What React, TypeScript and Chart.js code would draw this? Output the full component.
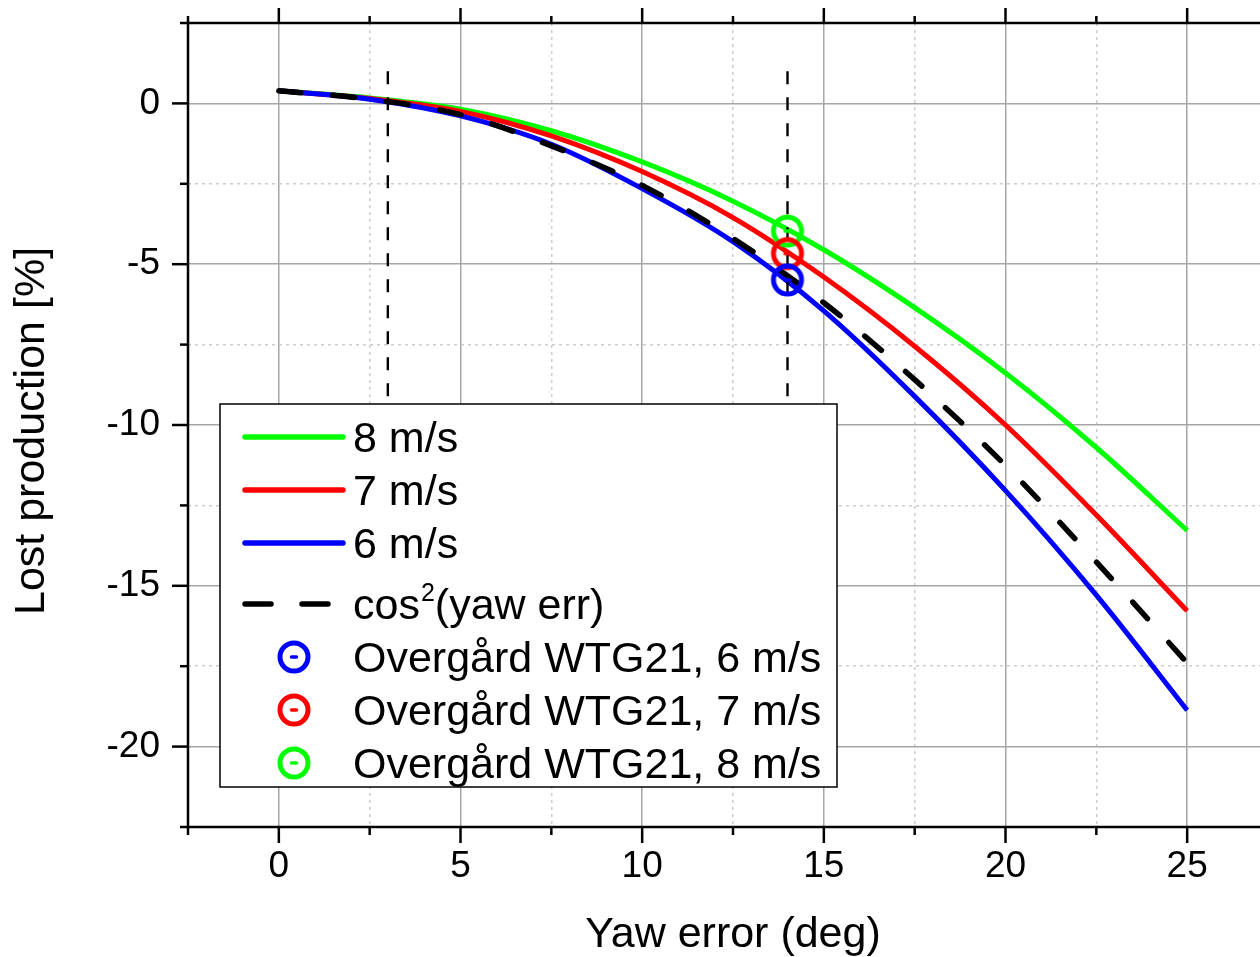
import React, { useEffect, useRef } from "react";
import { Chart, registerables } from "chart.js";

Chart.register(...registerables);

// ---- data ----
const yawDeg = [0, 2.5, 5, 7.5, 10, 12.5, 15, 17.5, 20, 22.5, 25];
const loss8 = [0.39, 0.17, -0.18, -0.85, -1.82, -3.04, -4.55, -6.35, -8.38, -10.7, -13.28];
const loss7 = [0.39, 0.15, -0.25, -1.01, -2.12, -3.55, -5.4, -7.55, -10.0, -12.8, -15.78];
const loss6 = [0.39, 0.13, -0.39, -1.27, -2.65, -4.3, -6.45, -9.11, -12.04, -15.29, -18.87];
const lossCos2 = [0.39, 0.13, -0.35, -1.32, -2.55, -4.2, -6.2, -8.59, -11.26, -14.26, -17.4];

const measYaw = [14];
const meas6 = [-5.49];
const meas7 = [-4.67];
const meas8 = [-3.97];

const refLineX = [3, 14];
const refLineY = [1, -20];

const xRange = [-2.5, 27.5];
const yRange = [-22.5, 2.5];
const tickStep = 2.5;
const labelStep = 5;

const seriesLabels = [
  "8 m/s",
  "7 m/s",
  "6 m/s",
  "cos²(yaw err)",
  "Overgård WTG21, 6 m/s",
  "Overgård WTG21, 7 m/s",
  "Overgård WTG21, 8 m/s",
];
const xTitle = "Yaw error (deg)";
const yTitle = "Lost production [%] ";

const GREEN = "#00ff00";
const RED = "#ff0000";
const BLUE = "#0000ff";
const FONT = "'Liberation Sans', Arial, Helvetica, sans-serif";

const isMajor = (v: number) => Math.abs(v / labelStep - Math.round(v / labelStep)) < 1e-6;

function makeRing(color: string): HTMLCanvasElement {
  const c = document.createElement("canvas");
  c.width = 40;
  c.height = 40;
  const g = c.getContext("2d")!;
  g.strokeStyle = color;
  g.lineWidth = 5;
  g.beginPath();
  g.arc(20, 20, 14, 0, Math.PI * 2);
  g.stroke();
  g.lineWidth = 3.5;
  g.lineCap = "round";
  g.beginPath();
  g.moveTo(17.5, 20);
  g.lineTo(22.5, 20);
  g.stroke();
  return c;
}

const pts = (xs: number[], ys: number[]) => ys.map((y, i) => ({ x: xs[i], y }));

const framePlugin = {
  id: "frameTicks",
  afterDatasetsDraw(chart: any) {
    const { ctx, chartArea: a, scales } = chart;
    const xs = scales.x;
    const ys = scales.y;
    ctx.save();
    ctx.strokeStyle = "#000";
    ctx.lineWidth = 2.5;
    ctx.lineCap = "butt";
    ctx.beginPath();
    ctx.rect(a.left, a.top, a.right - a.left, a.bottom - a.top);
    ctx.stroke();
    const seg = (x1: number, y1: number, x2: number, y2: number) => {
      ctx.beginPath();
      ctx.moveTo(x1, y1);
      ctx.lineTo(x2, y2);
      ctx.stroke();
    };
    xs.ticks.forEach((t: any) => {
      const px = xs.getPixelForValue(t.value);
      const m = isMajor(t.value);
      seg(px, a.bottom, px, a.bottom + (m ? 16 : 8));
      seg(px, a.top, px, a.top - (m ? 15 : 7));
    });
    ys.ticks.forEach((t: any) => {
      const py = ys.getPixelForValue(t.value);
      const m = isMajor(t.value);
      seg(a.left, py, a.left - (m ? 16 : 8), py);
      seg(a.right, py, a.right + (m ? 16 : 8), py);
    });
    ctx.restore();
  },
};

const legendPlugin = {
  id: "boxLegend",
  afterDraw(chart: any) {
    const ctx = chart.ctx;
    const L = 220, T = 404, R = 837, B = 787;
    ctx.save();
    ctx.fillStyle = "#fff";
    ctx.fillRect(L, T, R - L, B - T);
    ctx.strokeStyle = "#000";
    ctx.lineWidth = 1.5;
    ctx.strokeRect(L, T, R - L, B - T);
    const ds = chart.data.datasets.filter((d: any) => d.inLegend);
    ds.forEach((d: any, i: number) => {
      const y = T + 33 + i * 53 + (i >= 3 ? 8 : 0);
      if (d.showLine === false) {
        const img = d.pointStyle as HTMLCanvasElement;
        ctx.drawImage(img, 294 - img.width / 2, y - img.height / 2);
      } else {
        ctx.strokeStyle = d.borderColor;
        ctx.lineWidth = 5.5;
        ctx.lineCap = "round";
        if (d.borderDash && d.borderDash.length) {
          [[245, 271], [302, 328]].forEach(([a, b]) => {
            ctx.beginPath();
            ctx.moveTo(a, y);
            ctx.lineTo(b, y);
            ctx.stroke();
          });
        } else {
          ctx.beginPath();
          ctx.moveTo(245, y);
          ctx.lineTo(343, y);
          ctx.stroke();
        }
      }
      ctx.fillStyle = "#000";
      ctx.textBaseline = "alphabetic";
      ctx.textAlign = "left";
      const base = y + 15;
      const label: string = d.label;
      if (label.includes("²")) {
        const [pre, post] = label.split("²");
        ctx.font = `43px ${FONT}`;
        ctx.fillText(pre, 353, base);
        let x = 353 + ctx.measureText(pre).width + 1;
        ctx.font = `25px ${FONT}`;
        ctx.fillText("2", x, base - 18);
        x += ctx.measureText("2").width;
        ctx.font = `43px ${FONT}`;
        ctx.fillText(post, x, base);
      } else {
        ctx.font = `43px ${FONT}`;
        ctx.fillText(label, 353, base);
      }
    });
    ctx.restore();
  },
};

export default function App() {
  const ref = useRef<HTMLCanvasElement | null>(null);
  useEffect(() => {
    if (!ref.current) return;
    const line = (label: string, ys: number[], color: string, order: number, dash: number[] = []) => ({
      label,
      data: pts(yawDeg, ys),
      borderColor: color,
      backgroundColor: color,
      borderWidth: dash.length ? 5.5 : 5,
      borderDash: dash,
      borderCapStyle: dash.length ? "round" : "butt",
      pointRadius: 0,
      fill: false,
      cubicInterpolationMode: "monotone",
      order,
      inLegend: true,
    });
    const marker = (label: string, ys: number[], color: string) => ({
      label,
      data: pts(measYaw, ys),
      showLine: false,
      pointStyle: makeRing(color),
      pointRadius: 16,
      borderColor: color,
      backgroundColor: color,
      order: 0,
      inLegend: true,
    });
    const vline = (x: number) => ({
      label: "ref " + x,
      data: refLineY.map((y) => ({ x, y })),
      borderColor: "#000",
      borderWidth: 2.4,
      borderDash: [13, 13],
      pointRadius: 0,
      fill: false,
      order: 1,
      inLegend: false,
    });
    const datasets: any[] = [
      line(seriesLabels[0], loss8, GREEN, 5),
      line(seriesLabels[1], loss7, RED, 4),
      line(seriesLabels[2], loss6, BLUE, 3),
      line(seriesLabels[3], lossCos2, "#000", 2, [22, 32]),
      marker(seriesLabels[4], meas6, BLUE),
      marker(seriesLabels[5], meas7, RED),
      marker(seriesLabels[6], meas8, GREEN),
      ...refLineX.map(vline),
    ];
    const gridColor = (ctx: any) => (ctx.tick && isMajor(ctx.tick.value) ? "#a6a6a6" : "#cccccc");
    const gridDash = (ctx: any) => (ctx.tick && isMajor(ctx.tick.value) ? [] : [3, 4]);
    const tickFont = { family: FONT, size: 37 };
    const titleFont = { family: FONT, size: 43 };
    const chart = new Chart(ref.current, {
      type: "line",
      data: { datasets },
      options: {
        animation: false,
        responsive: false,
        devicePixelRatio: 1,
        layout: { padding: { left: 0, top: 23, right: 22, bottom: 0 } },
        plugins: { legend: { display: false }, tooltip: { enabled: false } },
        scales: {
          x: {
            type: "linear",
            min: xRange[0],
            max: xRange[1],
            ticks: {
              stepSize: tickStep,
              autoSkip: false,
              maxRotation: 0,
              padding: 18,
              color: "#000",
              font: tickFont,
              callback: (v: any) => (isMajor(Number(v)) ? String(v) : ""),
            },
            grid: { drawTicks: false, color: gridColor, lineWidth: 1.5 },
            border: { display: false, dash: gridDash },
            title: { display: true, text: xTitle, color: "#000", font: titleFont, padding: { top: 0, bottom: -4 } },
            afterFit: (s: any) => {
              s.height = 130;
              s.paddingLeft = 0;
              s.paddingRight = 0;
            },
          },
          y: {
            type: "linear",
            min: yRange[0],
            max: yRange[1],
            ticks: {
              stepSize: tickStep,
              autoSkip: false,
              padding: 28,
              color: "#000",
              font: tickFont,
              callback: (v: any) => (isMajor(Number(v)) ? String(v) : ""),
            },
            grid: { drawTicks: false, color: gridColor, lineWidth: 1.5 },
            border: { display: false, dash: gridDash },
            title: { display: true, text: yTitle, color: "#000", font: titleFont, padding: { top: 6, bottom: 0 } },
            afterFit: (s: any) => {
              s.width = 188;
              s.paddingTop = 0;
              s.paddingBottom = 0;
            },
          },
        },
      } as any,
      plugins: [framePlugin, legendPlugin],
    });
    return () => chart.destroy();
  }, []);
  return (
    <div style={{ position: "absolute", left: 0, top: 0, width: 1260, height: 957, overflow: "hidden", background: "#fff" }}>
      <canvas ref={ref} width={1300} height={957} style={{ display: "block", width: 1300, height: 957 }} />
    </div>
  );
}
